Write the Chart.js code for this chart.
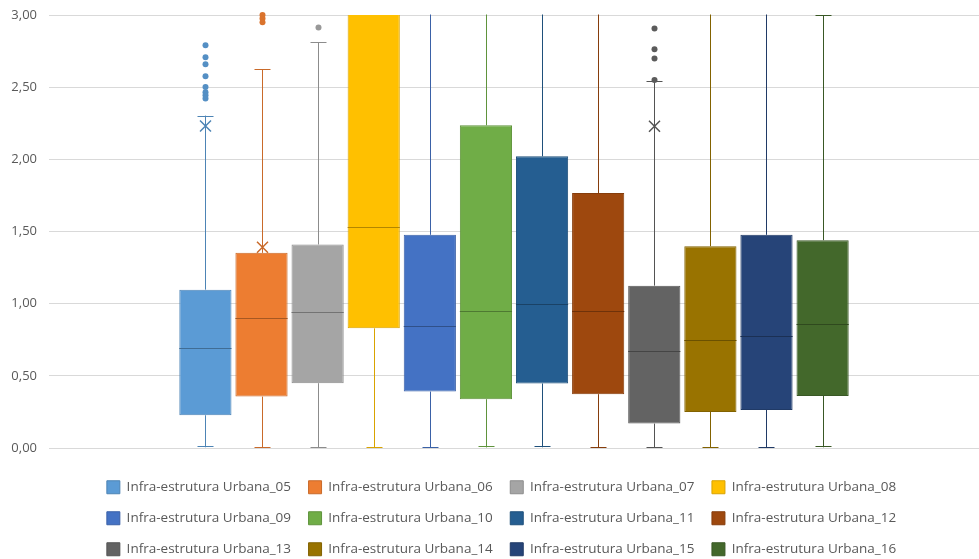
<!DOCTYPE html>
<html><head><meta charset="utf-8">
<script src="https://cdn.jsdelivr.net/npm/chart.js@4/dist/chart.umd.min.js"></script>
<style>html,body{margin:0;padding:0;overflow:hidden;background:#fff}</style>
</head><body>
<canvas id="c" width="979" height="566"></canvas>
<script>
// ---- data ----
const categories = [''];
const seriesNames = [
  'Infra-estrutura Urbana_05','Infra-estrutura Urbana_06','Infra-estrutura Urbana_07','Infra-estrutura Urbana_08',
  'Infra-estrutura Urbana_09','Infra-estrutura Urbana_10','Infra-estrutura Urbana_11','Infra-estrutura Urbana_12',
  'Infra-estrutura Urbana_13','Infra-estrutura Urbana_14','Infra-estrutura Urbana_15','Infra-estrutura Urbana_16'
];
const whiskerMin = [0.005, 0, 0, 0.003, 0, 0.004, 0.005, 0, 0, 0, 0, 0.005];
const q1         = [0.227, 0.356, 0.449, 0.829, 0.391, 0.338, 0.447, 0.373, 0.169, 0.250, 0.264, 0.361];
const median     = [0.692, 0.898, 0.942, 1.530, 0.843, 0.949, 1.000, 0.949, 0.671, 0.745, 0.773, 0.861];
const q3         = [1.097, 1.352, 1.410, 3.300, 1.477, 2.236, 2.021, 1.766, 1.125, 1.398, 1.477, 1.440];
const whiskerMax = [2.303, 2.625, 2.812, 4.000, 3.400, 3.600, 3.500, 3.500, 2.544, 3.300, 3.400, 3.000];
const means      = [2.231, 1.391, null, null, null, null, null, null, 2.229, null, null, null];
const outliers   = [
  [2.790, 2.708, 2.658, 2.576, 2.502, 2.465, 2.444, 2.421],
  [3.000, 2.975, 2.950],
  [2.914],
  [], [], [], [], [],
  [2.907, 2.762, 2.699, 2.549],
  [], [], []
];
const yMin = 0, yMax = 3, yStep = 0.5;

// ---- styles ----
const colors = ['#5B9BD5','#ED7D31','#A5A5A5','#FFC000','#4472C4','#70AD47','#255E91','#9E480E','#636363','#997300','#264478','#43682B'];
function shade(hex, f){
  const n = parseInt(hex.slice(1),16);
  const r = Math.round(((n>>16)&255)*f), g = Math.round(((n>>8)&255)*f), b = Math.round((n&255)*f);
  return 'rgb('+r+','+g+','+b+')';
}

const datasets = seriesNames.map((name,i)=>({
  label: name,
  data: [[q1[i], q3[i]]],
  backgroundColor: colors[i],
  borderColor: shade(colors[i], 0.85),
  borderWidth: 1,
  borderSkipped: false
}));

const boxPlugin = {
  id: 'boxWhisker',
  afterLayout(chart){
    const lg = chart.legend;
    if (lg){ lg.left += 6; lg.right += 6; }
  },
  beforeDatasetsDraw(chart){
    const ctx = chart.ctx, y = chart.scales.y, a = chart.chartArea;
    ctx.save();
    ctx.beginPath(); ctx.rect(a.left, a.top-0.5, a.right-a.left, a.bottom-a.top+1); ctx.clip();
    chart.data.datasets.forEach((ds,i)=>{
      const bar = chart.getDatasetMeta(i).data[0];
      const x = Math.round(bar.x)+0.5;
      ctx.strokeStyle = shade(colors[i], 0.85);
      ctx.lineWidth = 1;
      const yq1 = y.getPixelForValue(q1[i]), yq3 = y.getPixelForValue(q3[i]);
      const ylo = y.getPixelForValue(whiskerMin[i]), yhi = y.getPixelForValue(whiskerMax[i]);
      ctx.beginPath();
      ctx.moveTo(x, yq3); ctx.lineTo(x, yhi);
      ctx.moveTo(x, yq1); ctx.lineTo(x, ylo);
      const cw = 8;
      ctx.moveTo(x-cw, Math.round(yhi)+0.5); ctx.lineTo(x+cw, Math.round(yhi)+0.5);
      ctx.moveTo(x-cw, Math.round(ylo)-0.5); ctx.lineTo(x+cw, Math.round(ylo)-0.5);
      ctx.stroke();
    });
    ctx.restore();
  },
  afterDatasetsDraw(chart){
    const ctx = chart.ctx, y = chart.scales.y, a = chart.chartArea;
    ctx.save();
    ctx.beginPath(); ctx.rect(a.left, a.top, a.right-a.left, a.bottom-a.top); ctx.clip();
    chart.data.datasets.forEach((ds,i)=>{
      const bar = chart.getDatasetMeta(i).data[0];
      const half = bar.width/2;
      const ym = Math.round(y.getPixelForValue(median[i]))+0.5;
      ctx.strokeStyle = shade(colors[i], 0.7);
      ctx.lineWidth = 1.2;
      ctx.beginPath(); ctx.moveTo(bar.x-half, ym); ctx.lineTo(bar.x+half, ym); ctx.stroke();
    });
    ctx.restore();
    ctx.save();
    chart.data.datasets.forEach((ds,i)=>{
      const bar = chart.getDatasetMeta(i).data[0];
      const x = Math.round(bar.x)+0.5;
      ctx.fillStyle = shade(colors[i], 0.92);
      outliers[i].forEach(v=>{
        const py = y.getPixelForValue(v);
        ctx.beginPath(); ctx.arc(x, py, 3, 0, Math.PI*2); ctx.fill();
      });
      if (means[i] !== null){
        const py = y.getPixelForValue(means[i]);
        ctx.strokeStyle = shade(colors[i], 0.85);
        ctx.lineWidth = 1.5;
        const s = 5.5;
        ctx.beginPath();
        ctx.moveTo(x-s, py-s); ctx.lineTo(x+s, py+s);
        ctx.moveTo(x+s, py-s); ctx.lineTo(x-s, py+s);
        ctx.stroke();
      }
    });
    ctx.restore();
  }
};

const fontFamily = '"Open Sans", "DejaVu Sans", sans-serif';
new Chart(document.getElementById('c'), {
  type: 'bar',
  data: { labels: categories, datasets },
  options: {
    responsive: false,
    animation: false,
    categoryPercentage: 0.724,
    barPercentage: 0.93,
    layout: { padding: { left: 9, right: -3, top: 15, bottom: 0 } },
    scales: {
      x: {
        grid: { display: false, drawTicks: false },
        border: { display: false },
        ticks: { display: false },
        title: { display: true, text: '', padding: 0, font: { size: 10, lineHeight: 1.5 } }
      },
      y: {
        min: yMin, max: yMax,
        afterFit: s => { s.width = 40; s.paddingTop = 0; s.paddingBottom = 0; },
        grid: { color: '#D9D9D9', drawTicks: false },
        border: { display: false },
        ticks: {
          stepSize: yStep, padding: 12, color: '#595959',
          font: { family: fontFamily, size: 13 },
          callback: v => v.toFixed(2).replace('.', ',')
        }
      }
    },
    plugins: {
      tooltip: { enabled: false },
      legend: {
        position: 'bottom',
        labels: {
          boxWidth: 13, boxHeight: 13, padding: 17.5,
          color: '#595959',
          font: { family: fontFamily, size: 13.5 }
        }
      }
    }
  },
  plugins: [boxPlugin]
});
</script>
</body></html>
